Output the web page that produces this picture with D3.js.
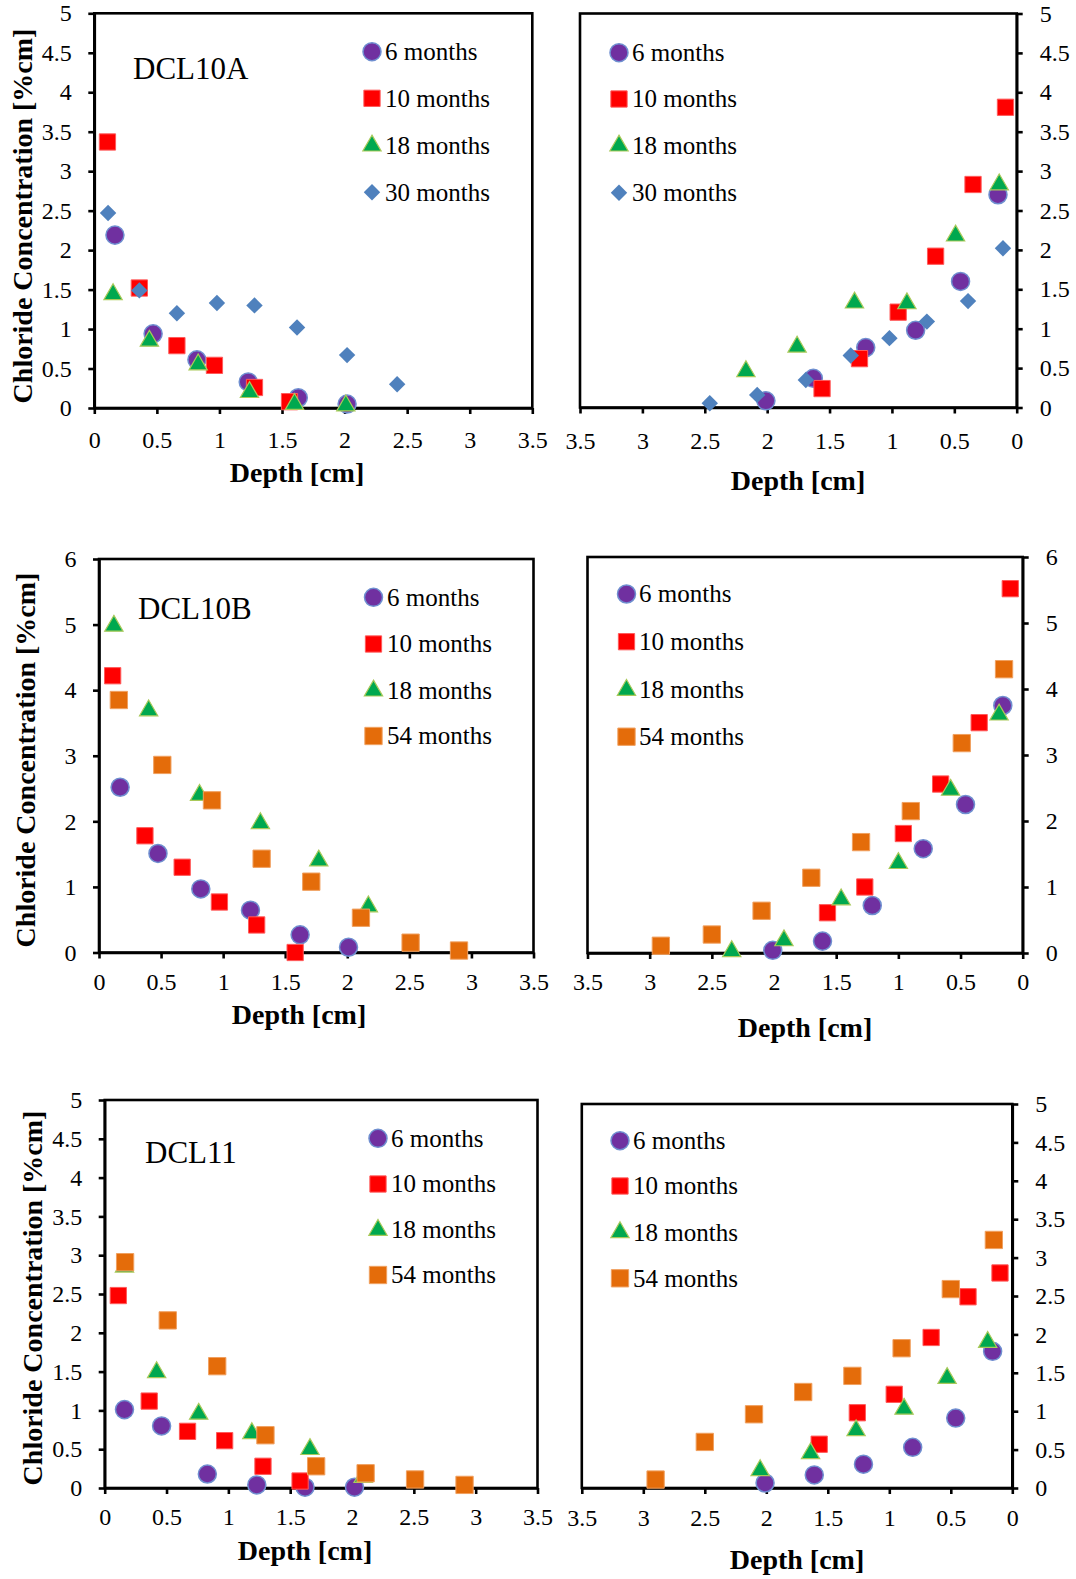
<!DOCTYPE html>
<html><head><meta charset="utf-8">
<script src="https://cdn.jsdelivr.net/npm/d3@7"></script>
<style>
body{margin:0;background:#fff;}
svg{display:block;}
svg text{font-family:"Liberation Serif","Times New Roman",serif !important;fill:#000;}
</style></head>
<body>
<svg id="chart" width="1076" height="1579"></svg>
<script>
// ---------- tick labels ----------
const xTicks = [0, 0.5, 1, 1.5, 2, 2.5, 3, 3.5];
const yTicks5 = [0, 0.5, 1, 1.5, 2, 2.5, 3, 3.5, 4, 4.5, 5];
const yTicks6 = [0, 1, 2, 3, 4, 5, 6];

// ---------- categories ----------
const namesA = ["6 months", "10 months", "18 months", "30 months"];
const namesB = ["6 months", "10 months", "18 months", "54 months"];
const keysA = ["m6", "m10", "m18", "m30"];
const keysB = ["m6", "m10", "m18", "m54"];

// ---------- DCL10A (left) [depth, concentration] ----------
const a1_m6  = [[0.165,2.19],[0.47,0.94],[0.82,0.61],[1.23,0.33],[1.63,0.13],[2.02,0.05]];
const a1_m10 = [[0.105,3.37],[0.36,1.52],[0.66,0.79],[0.96,0.54],[1.28,0.26],[1.56,0.08]];
const a1_m18 = [[0.15,1.44],[0.44,0.85],[0.83,0.55],[1.24,0.20],[1.60,0.05],[2.01,0.03]];
const a1_m30 = [[0.11,2.47],[0.36,1.49],[0.66,1.20],[0.98,1.33],[1.28,1.30],[1.62,1.02],[2.02,0.67],[2.42,0.30]];
// ---------- DCL10A (right) ----------
const a2_m6  = [[0.15,2.70],[0.45,1.60],[0.81,0.98],[1.21,0.76],[1.63,0.37],[2.01,0.085]];
const a2_m10 = [[0.09,3.81],[0.35,2.83],[0.65,1.92],[0.95,1.21],[1.26,0.62],[1.56,0.24]];
const a2_m18 = [[0.14,2.83],[0.49,2.18],[0.88,1.32],[1.30,1.33],[1.76,0.77],[2.17,0.46]];
const a2_m30 = [[0.11,2.02],[0.39,1.35],[0.72,1.09],[1.02,0.88],[1.33,0.66],[1.69,0.35],[2.08,0.16],[2.46,0.055]];
// ---------- DCL10B (left) ----------
const b1_m6  = [[0.17,2.52],[0.475,1.51],[0.82,0.97],[1.22,0.645],[1.62,0.27],[2.01,0.08]];
const b1_m10 = [[0.11,4.22],[0.37,1.78],[0.67,1.30],[0.97,0.77],[1.27,0.42],[1.58,0.0]];
const b1_m18 = [[0.12,4.98],[0.40,3.69],[0.81,2.40],[1.30,1.97],[1.77,1.40],[2.17,0.70]];
const b1_m54 = [[0.16,3.85],[0.51,2.86],[0.91,2.32],[1.31,1.43],[1.71,1.08],[2.11,0.53],[2.51,0.15],[2.90,0.03]];
// ---------- DCL10B (right) ----------
const b2_m6  = [[0.16,3.75],[0.46,2.25],[0.80,1.58],[1.21,0.72],[1.61,0.18],[2.01,0.04]];
const b2_m10 = [[0.10,5.52],[0.35,3.49],[0.66,2.56],[0.96,1.81],[1.27,1.00],[1.57,0.61]];
const b2_m18 = [[0.19,3.61],[0.58,2.47],[1.00,1.36],[1.46,0.81],[1.92,0.19],[2.34,0.025]];
const b2_m54 = [[0.15,4.30],[0.49,3.18],[0.90,2.15],[1.30,1.68],[1.70,1.14],[2.10,0.64],[2.50,0.28],[2.91,0.11]];
// ---------- DCL11 (left) ----------
const c1_m6  = [[0.16,1.01],[0.46,0.80],[0.83,0.18],[1.23,0.04],[1.62,0.01],[2.02,0.01]];
const c1_m10 = [[0.11,2.48],[0.36,1.12],[0.67,0.73],[0.97,0.61],[1.28,0.28],[1.58,0.09]];
const c1_m18 = [[0.16,2.85],[0.42,1.49],[0.76,0.955],[1.19,0.705],[1.66,0.50],[2.09,0.14]];
const c1_m54 = [[0.165,2.91],[0.51,2.16],[0.91,1.57],[1.30,0.68],[1.71,0.28],[2.11,0.19],[2.51,0.11],[2.91,0.04]];
// ---------- DCL11 (right) ----------
const c2_m6  = [[0.16,1.78],[0.46,0.91],[0.81,0.53],[1.21,0.31],[1.61,0.17],[2.01,0.065]];
const c2_m10 = [[0.10,2.80],[0.36,2.49],[0.66,1.96],[0.96,1.22],[1.26,0.98],[1.57,0.57]];
const c2_m18 = [[0.20,1.90],[0.53,1.43],[0.88,1.03],[1.27,0.75],[1.64,0.45],[2.05,0.23]];
const c2_m54 = [[0.15,3.23],[0.50,2.59],[0.90,1.82],[1.30,1.46],[1.70,1.25],[2.10,0.96],[2.50,0.60],[2.90,0.11]];

// ---------- marker styles ----------
const styles = {
  m6:  {type: d3.symbolCircle,   size: 255, rot: 0,  fill: "#7030A0", stroke: "#6F8FD0", sw: 1.5},
  m10: {type: d3.symbolSquare,   size: 265, rot: 0,  fill: "#FF0000", stroke: "#FF5A5A", sw: 1},
  m18: {type: d3.symbolTriangle, size: 145, rot: 0,  fill: "#00A84F", stroke: "#A9C95A", sw: 1.2},
  m30: {type: d3.symbolSquare,   size: 135, rot: 45, fill: "#4F81BD", stroke: "none",    sw: 0},
  m54: {type: d3.symbolSquare,   size: 300, rot: 0,  fill: "#E46C0A", stroke: "#F0A060", sw: 1}
};

// ---------- panel layout ----------
const panels = [
  {L:94.3, R:532.3, T:13.3, B:408, yMax:5, yT:yTicks5, rev:false, keys:keysA, names:namesA,
   data:[a1_m6,a1_m10,a1_m18,a1_m30], lx:372, tx:385, ly:[51.7,98.3,145.7,192.3], xpad:17,
   title:"DCL10A", tX:133, tY:79, xt:[297,482], yt:[22,216]},
  {L:580, R:1016.7, T:13.5, B:407.5, yMax:5, yT:yTicks5, rev:true, keys:keysA, names:namesA,
   data:[a2_m6,a2_m10,a2_m18,a2_m30], lx:619, tx:632, ly:[52.7,99,145.7,192.7], xpad:18,
   xt:[798,490]},
  {L:99, R:533.5, T:559, B:952.5, yMax:6, yT:yTicks6, rev:false, keys:keysB, names:namesB,
   data:[b1_m6,b1_m10,b1_m18,b1_m54], lx:373.5, tx:387, ly:[597.3,644,690.7,736], xpad:14,
   title:"DCL10B", tX:138, tY:619, xt:[299,1024], yt:[25,760]},
  {L:587.5, R:1022.7, T:557, B:953, yMax:6, yT:yTicks6, rev:true, keys:keysB, names:namesB,
   data:[b2_m6,b2_m10,b2_m18,b2_m54], lx:626.5, tx:639, ly:[594,641.7,690,736.7], xpad:14,
   xt:[805,1037]},
  {L:104.7, R:537.5, T:1100, B:1488, yMax:5, yT:yTicks5, rev:false, keys:keysB, names:namesB,
   data:[c1_m6,c1_m10,c1_m18,c1_m54], lx:378, tx:391, ly:[1138.3,1184,1230,1275], xpad:14,
   title:"DCL11", tX:145, tY:1163, xt:[305,1560], yt:[32,1298]},
  {L:581.8, R:1012.3, T:1104, B:1488, yMax:5, yT:yTicks5, rev:true, keys:keysB, names:namesB,
   data:[c2_m6,c2_m10,c2_m18,c2_m54], lx:620, tx:633, ly:[1140.7,1186,1232.3,1278.3], xpad:15,
   xt:[797,1569]}
];

const svg = d3.select("#chart");
svg.append("rect").attr("width",1076).attr("height",1579).attr("fill","#fff");

function marker(g, key, x, y) {
  const s = styles[key];
  g.append("path")
    .attr("d", d3.symbol().type(s.type).size(s.size)())
    .attr("transform", `translate(${x},${y}) rotate(${s.rot})`)
    .attr("fill", s.fill)
    .attr("stroke", s.stroke)
    .attr("stroke-width", s.sw);
}

const SERIF = '"Liberation Serif","Times New Roman",serif';

panels.forEach(p => {
  const x = d3.scaleLinear().domain(p.rev ? [3.5, 0] : [0, 3.5]).range([p.L, p.R]);
  const y = d3.scaleLinear().domain([0, p.yMax]).range([p.B, p.T]);
  const g = svg.append("g");

  // frame
  g.append("rect").attr("x", p.L).attr("y", p.T).attr("width", p.R - p.L).attr("height", p.B - p.T)
    .attr("fill", "none").attr("stroke", "#000").attr("stroke-width", 2.6);

  // x axis
  const xa = g.append("g").attr("transform", `translate(0,${p.B})`)
    .call(d3.axisBottom(x).tickValues(xTicks).tickFormat(d => String(d)).tickSize(6).tickSizeOuter(0).tickPadding(p.xpad));
  // y axis
  const ya = p.rev
    ? g.append("g").attr("transform", `translate(${p.R},0)`)
        .call(d3.axisRight(y).tickValues(p.yT).tickFormat(d => String(d)).tickSize(6).tickSizeOuter(0).tickPadding(17))
    : g.append("g").attr("transform", `translate(${p.L},0)`)
        .call(d3.axisLeft(y).tickValues(p.yT).tickFormat(d => String(d)).tickSize(6).tickSizeOuter(0).tickPadding(16.5));
  [xa, ya].forEach(a => {
    a.attr("font-family", SERIF).attr("font-size", 24);
    a.select(".domain").attr("stroke", "#000").attr("stroke-width", 2.6);
    a.selectAll(".tick line").attr("stroke", "#000").attr("stroke-width", 2.6);
    a.selectAll(".tick text").style("font-family", SERIF).style("font-size", "24px").attr("fill", "#000");
  });

  // points
  p.keys.forEach((k, i) => {
    p.data[i].forEach(d => marker(g, k, x(d[0]), y(d[1])));
  });

  // legend
  p.keys.forEach((k, i) => {
    marker(g, k, p.lx, p.ly[i]);
    g.append("text").attr("x", p.tx).attr("y", p.ly[i]).attr("dy", "0.33em")
      .attr("font-size", 25).text(p.names[i]);
  });

  if (p.title) {
    g.append("text").attr("x", p.tX).attr("y", p.tY).attr("font-size", 31).text(p.title);
  }
  g.append("text").attr("x", p.xt[0]).attr("y", p.xt[1]).attr("text-anchor", "middle")
    .attr("font-size", 28).attr("font-weight", "bold").text("Depth [cm]");
  if (p.yt) {
    g.append("text").attr("transform", `translate(${p.yt[0]},${p.yt[1]}) rotate(-90)`)
      .attr("text-anchor", "middle").attr("dy", "0.35em")
      .attr("font-size", 28).attr("font-weight", "bold").text("Chloride Concentration [%cm]");
  }
});
</script>
</body></html>
